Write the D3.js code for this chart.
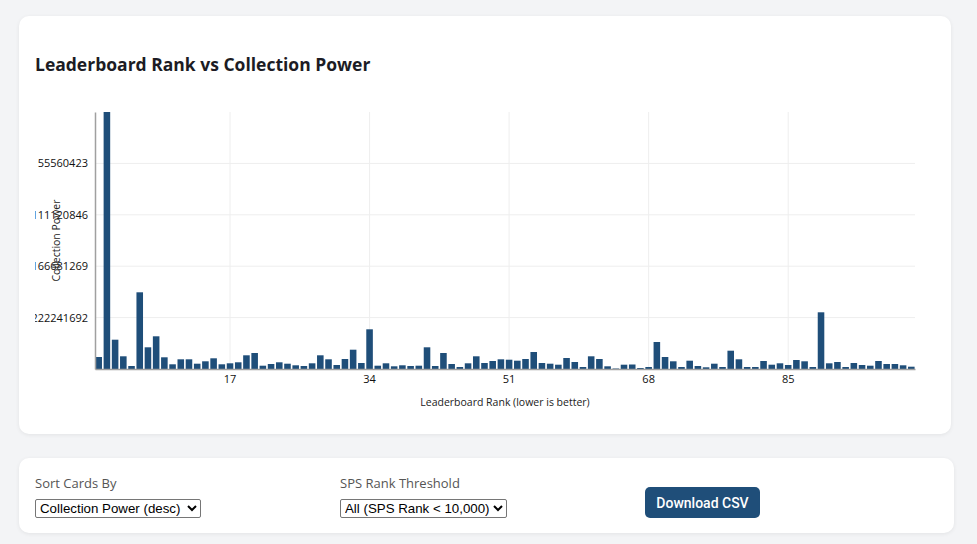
<!DOCTYPE html>
<html>
<head>
<meta charset="utf-8">
<script src="https://cdn.jsdelivr.net/npm/d3@7/dist/d3.min.js"></script>
<style>
  html, body { margin: 0; padding: 0; background: #f3f4f6; }
  body { width: 977px; height: 544px; overflow: hidden; font-family: "Open Sans", "Noto Sans", sans-serif; }
  .card { position: absolute; left: 19px; width: 932px; background: #fff; border-radius: 10px;
          box-shadow: 0 1px 4px rgba(0,0,0,0.07); box-sizing: border-box; }
  #chartCard { top: 16px; height: 418px; }
  #ctrlCard { top: 458px; height: 75px; width: 935px; }
  h2 { position: absolute; left: 16px; top: 40px; margin: 0; font-size: 17.5px; font-weight: 700; color: #1c1c24; line-height: 1; white-space: nowrap; }
  #chart { position: absolute; left: 16px; top: 76px; }
  .grp { position: absolute; top: 17px; }
  .grp label { display: block; font-size: 13px; color: #555; margin-bottom: 4px; line-height: 17px; }
  select { font-family: "Liberation Sans", Arial, sans-serif; font-size: 13.3px; color: #000; height: 19px;
           border: 1px solid #767676; border-radius: 2px; background: #fff; padding: 0; }
  button { position: absolute; left: 626px; top: 29px; width: 115px; height: 31px; background: #1f4e79; color: #fff;
           border: none; border-radius: 5px; font-family: Roboto, "Liberation Sans", sans-serif; font-size: 14px; font-weight: 500; }
</style>
</head>
<body>
<div class="card" id="chartCard">
  <h2>Leaderboard Rank vs Collection Power</h2>
  <div id="chart"></div>
</div>
<div class="card" id="ctrlCard">
  <div class="grp" style="left:16px"><label>Sort Cards By</label>
    <select style="width:166px"><option>Collection Power (desc)</option></select></div>
  <div class="grp" style="left:321px"><label>SPS Rank Threshold</label>
    <select style="width:167px"><option>All (SPS Rank &lt; 10,000)</option></select></div>
  <button>Download CSV</button>
</div>
<script>
// ranks 1..100
const ranks = d3.range(1, 101);
const collectionPower = [
  12971000, 277802115, 31672000, 13728000, 3243000, 82908000, 23456000, 35347000, 12647000, 5080000,
  10485000, 10485000, 5729000, 8323000, 11566000, 5080000, 6161000, 7242000, 14809000, 17295000,
  3567000, 5405000, 7242000, 5729000, 4000000, 3243000, 6161000, 14809000, 10485000, 4324000,
  10809000, 20862000, 6486000, 42913000, 3567000, 6161000, 2919000, 4000000, 3243000, 3567000,
  23456000, 3243000, 17295000, 5405000, 2162000, 6161000, 13728000, 6486000, 8648000, 10485000,
  10053000, 8972000, 10809000, 18376000, 6486000, 5729000, 4648000, 11890000, 7567000, 2162000,
  13728000, 10809000, 2919000, 540000, 4648000, 4864000, 1081000, 2162000, 29185000, 12971000,
  8323000, 2162000, 8972000, 3243000, 1838000, 5729000, 2162000, 19781000, 10485000, 2162000,
  2162000, 8648000, 4648000, 6161000, 4324000, 9728000, 8323000, 2162000, 61289000, 6161000,
  7567000, 2162000, 6486000, 4324000, 3567000, 8648000, 5405000, 5405000, 4000000, 2486000
];
const xTickValues = [17, 34, 51, 68, 85];
const yTickValues = [55560423, 111120846, 166681269, 222241692];

const W = 900, H = 326;
const m = { top: 20, right: 20, bottom: 49, left: 60 };
const iw = W - m.left - m.right, ih = H - m.top - m.bottom;

const svg = d3.select("#chart").append("svg").attr("width", W).attr("height", H)
  .style("font-family", "'Open Sans', 'Noto Sans', sans-serif");
const g = svg.append("g").attr("transform", `translate(${m.left},${m.top})`);

const maxV = d3.max(collectionPower);
const x = d3.scaleBand().domain(ranks).range([0, iw]).paddingInner(0.2).paddingOuter(0.05);
const y = d3.scaleLinear().domain([0, maxV]).range([ih, 0]);
// axis labels in the reference run top-down (0 at top)
const yAxisScale = d3.scaleLinear().domain([0, maxV]).range([0, ih]);

// grid
g.append("g").selectAll("line").data(yTickValues).join("line")
  .attr("x1", 0).attr("x2", iw).attr("y1", d => yAxisScale(d)).attr("y2", d => yAxisScale(d))
  .attr("stroke", "#eeeeee").attr("stroke-width", 1);
g.append("g").selectAll("line").data(xTickValues).join("line")
  .attr("x1", d => x(d) + x.bandwidth() / 2).attr("x2", d => x(d) + x.bandwidth() / 2)
  .attr("y1", 0).attr("y2", ih).attr("stroke", "#eeeeee").attr("stroke-width", 1);

// bars
g.append("g").selectAll("rect").data(ranks).join("rect")
  .attr("x", d => x(d)).attr("width", x.bandwidth())
  .attr("y", (d, i) => y(collectionPower[i]))
  .attr("height", (d, i) => ih - y(collectionPower[i]))
  .attr("fill", "#1f4e79");

// axes
const xAxis = g.append("g").attr("transform", `translate(0,${ih})`)
  .call(d3.axisBottom(x).tickValues(xTickValues).tickSize(0).tickPadding(6));
const yAxis = g.append("g")
  .call(d3.axisLeft(yAxisScale).tickValues(yTickValues).tickSize(0).tickPadding(7).tickFormat(d3.format("d")));
[xAxis, yAxis].forEach(a => {
  a.select(".domain").attr("stroke", "#a0a0a0").attr("stroke-width", 1.5);
  a.selectAll("text").attr("font-size", 11).attr("fill", "#111").attr("font-family", "'Open Sans', sans-serif");
});

svg.append("text").attr("x", m.left + iw / 2).attr("y", m.top + ih + 37)
  .attr("text-anchor", "middle").attr("font-size", 10.5).attr("fill", "#222")
  .text("Leaderboard Rank (lower is better)");
svg.append("text").attr("transform", `translate(${25},${m.top + ih / 2}) rotate(-90)`)
  .attr("text-anchor", "middle").attr("font-size", 10.5).attr("fill", "#222")
  .text("Collection Power");
</script>
</body>
</html>
